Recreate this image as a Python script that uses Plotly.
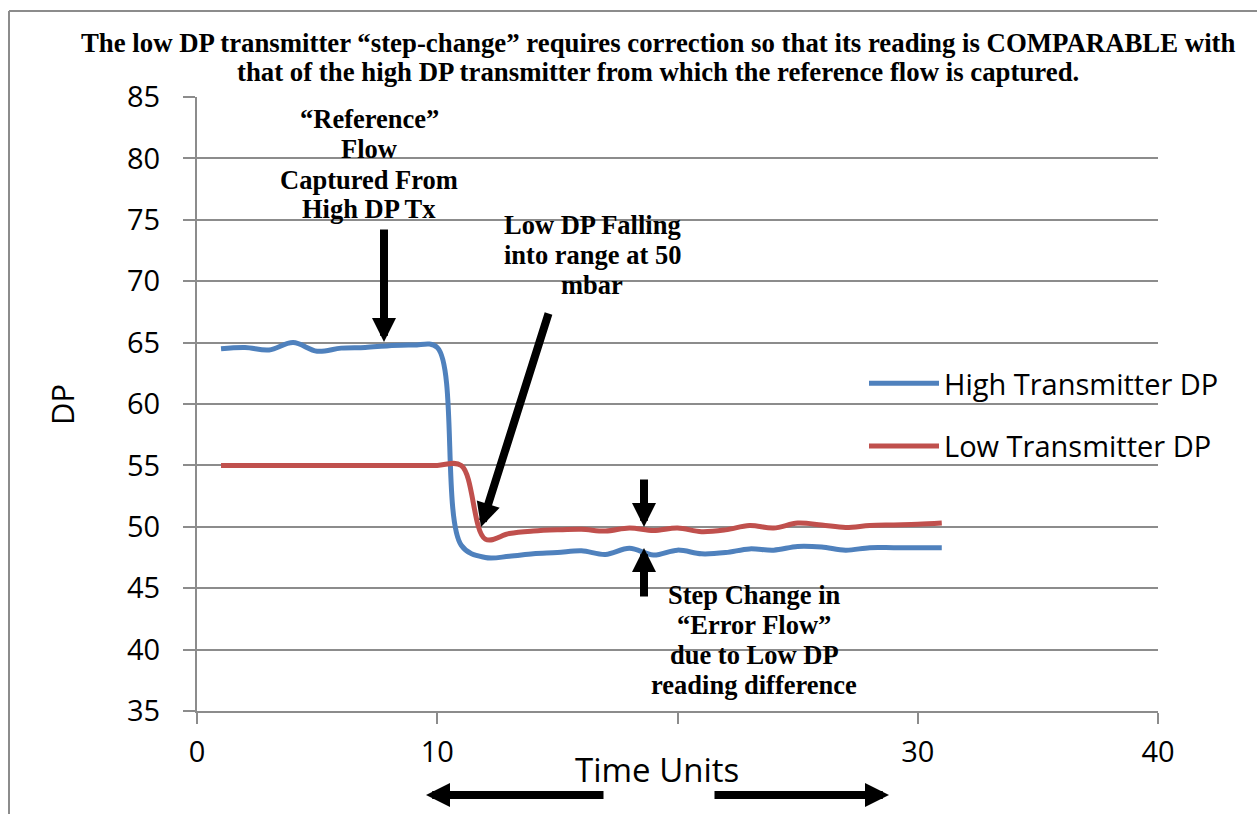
import plotly.graph_objects as go

# ---------------- data ----------------
time_units = list(range(1, 32))
high_dp = [64.5, 64.6, 64.4, 65.0, 64.3, 64.55, 64.6, 64.75, 64.8, 64.6,
           48.5, 47.5, 47.6, 47.8, 47.9, 48.05, 47.75, 48.25, 47.7, 48.1,
           47.8, 47.9, 48.2, 48.1, 48.4, 48.35, 48.1, 48.3, 48.3, 48.3, 48.3]
low_dp = [55.0, 55.0, 55.0, 55.0, 55.0, 55.0, 55.0, 55.0, 55.0, 55.0,
          55.0, 49.0, 49.45, 49.65, 49.75, 49.8, 49.65, 49.9, 49.7, 49.9,
          49.6, 49.75, 50.1, 49.9, 50.3, 50.15, 49.95, 50.1, 50.15, 50.2, 50.3]
series_names = ["High Transmitter DP", "Low Transmitter DP"]
x_ticks = [0, 10, 20, 30, 40]
x_ticktext = ["0", "10", "", "30", "40"]
y_ticks = [35, 40, 45, 50, 55, 60, 65, 70, 75, 80, 85]

title_lines = [
    "The low DP transmitter \u201cstep-change\u201d requires correction so that its reading is COMPARABLE with",
    "that of the high DP transmitter from which the reference flow is captured.",
]
ref_lines = ["\u201cReference\u201d", "Flow", "Captured From", "High DP Tx"]
fall_lines = ["Low DP Falling", "into range at 50", "mbar"]
step_lines = ["Step Change in", "\u201cError Flow\u201d", "due to Low DP", "reading difference"]

# ---------------- layout geometry ----------------
W, H = 1257, 814
L, R, T, B = 197, 1158, 97, 711
X0, X1, Y0, Y1 = 0, 40, 35, 85


def px_x(px):
    return (px - L) / (R - L)


def px_y(py):
    return (B - py) / (B - T)


def dx(px):
    return X0 + (px - L) / (R - L) * (X1 - X0)


def dy(py):
    return Y1 - (py - T) / (B - T) * (Y1 - Y0)


BLUE = "#4F81BD"
RED = "#C0504D"
GRID = "#8C8C8C"
SERIF = "Liberation Serif, Times New Roman, serif"
SANS = "Open Sans, Calibri, sans-serif"

fig = go.Figure()
fig.add_trace(go.Scatter(x=time_units, y=high_dp, mode="lines", name=series_names[0],
                         line=dict(color=BLUE, width=5, shape="spline", smoothing=1.0),
                         legendgroup="a"))
fig.add_trace(go.Scatter(x=time_units, y=low_dp, mode="lines", name=series_names[1],
                         line=dict(color=RED, width=5, shape="spline", smoothing=1.0),
                         legendgroup="b"))

annotations = []


def text_block(lines, cx, ys, size=26.5):
    for t, yy in zip(lines, ys):
        annotations.append(dict(text="<b>" + t + "</b>", xref="paper", yref="paper",
                                x=px_x(cx), y=px_y(yy), xanchor="center", yanchor="middle",
                                showarrow=False, font=dict(family=SERIF, size=size, color="black")))


text_block(title_lines, 658, [43, 72], size=26.8)
text_block(ref_lines, 369, [119, 149, 180, 209])
text_block(fall_lines, 592, [225, 255, 285])
text_block(step_lines, 754, [595, 625, 655, 685])


def arrow(tail, tip):
    annotations.append(dict(text="", x=dx(tip[0]), y=dy(tip[1]), ax=dx(tail[0]), ay=dy(tail[1]),
                            xref="x", yref="y", axref="x", ayref="y", showarrow=True,
                            arrowhead=2, arrowsize=0.6, arrowwidth=8, arrowcolor="black",
                            standoff=0, startstandoff=0))


def arrow_below(tail_px, tip_px, py):
    # horizontal arrows below the plot area (paper y, pixel offsets)
    annotations.append(dict(text="", x=dx(tip_px), y=px_y(py), ax=tail_px - tip_px, ay=0,
                            xref="x", yref="paper", axref="pixel", ayref="pixel", showarrow=True,
                            arrowhead=2, arrowsize=0.6, arrowwidth=8, arrowcolor="black",
                            standoff=0, startstandoff=0))


arrow((384, 228), (384, 342))
arrow((549, 312), (481, 527))
arrow((644, 478), (644, 527))
arrow((644, 598), (644, 548))
arrow_below(605, 426, 795)
arrow_below(713, 889, 795)

# axis titles
annotations.append(dict(text="Time Units", xref="paper", yref="paper", x=px_x(657), y=px_y(769),
                        xanchor="center", yanchor="middle", showarrow=False,
                        font=dict(family=SANS, size=33, color="black")))
annotations.append(dict(text="DP", xref="paper", yref="paper", x=px_x(62), y=px_y(405),
                        xanchor="center", yanchor="middle", showarrow=False, textangle=-90,
                        font=dict(family=SANS, size=31, color="black")))

shapes = [
    dict(type="line", xref="paper", yref="paper", x0=px_x(9), x1=px_x(W + 5), y0=px_y(11), y1=px_y(11),
         line=dict(color=GRID, width=2)),
    dict(type="line", xref="paper", yref="paper", x0=px_x(9), x1=px_x(9), y0=px_y(11), y1=px_y(H + 5),
         line=dict(color=GRID, width=2)),
]

fig.update_layout(
    width=W, height=H,
    margin=dict(l=L, r=W - R, t=T, b=H - B),
    paper_bgcolor="white", plot_bgcolor="white",
    showlegend=True,
    legend=dict(x=px_x(864), y=px_y(358), xanchor="left", yanchor="top",
                font=dict(family=SANS, size=29, color="black"),
                bgcolor="rgba(0,0,0,0)", itemwidth=70, tracegroupgap=22,
                traceorder="grouped"),
    annotations=annotations,
    shapes=shapes,
    xaxis=dict(range=[X0, X1], tickvals=x_ticks, ticktext=x_ticktext, showgrid=False,
               showline=True, linecolor=GRID, linewidth=2, ticks="outside", ticklen=11,
               tickwidth=2, tickcolor=GRID, zeroline=False, ticklabelstandoff=3,
               tickfont=dict(family=SANS, size=29, color="black")),
    yaxis=dict(range=[Y0, Y1], tickvals=y_ticks, showgrid=True, gridcolor=GRID, gridwidth=2,
               showline=True, linecolor=GRID, linewidth=2, ticks="outside", ticklen=12,
               tickwidth=2, tickcolor=GRID, zeroline=False, ticklabelstandoff=17,
               tickfont=dict(family=SANS, size=29, color="black")),
)

fig.write_html("out.html", config={"displayModeBar": False},
               post_script="document.body.style.margin='0';document.body.style.overflow='hidden';")
